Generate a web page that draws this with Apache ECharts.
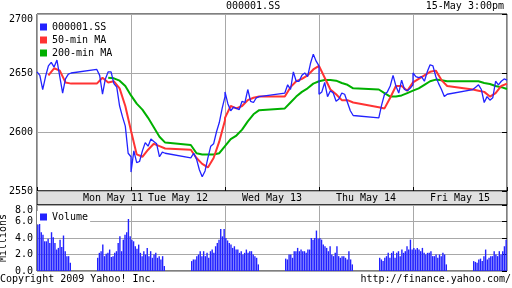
<!DOCTYPE html>
<html><head><meta charset="utf-8">
<script src="https://cdn.jsdelivr.net/npm/echarts@6/dist/echarts.min.js"></script>
<style>html,body{margin:0;padding:0;background:#fff}#c{width:512px;height:288px}</style>
</head><body><div id="c"></div>
<script>
// ---- data ----
const days = ['Mon May 11', 'Tue May 12', 'Wed May 13', 'Thu May 14', 'Fri May 15'];
// minutes after 9:30 (lunch 11:30-13:00 kept on the time axis, day = 9:30..15:00)
const priceTimes = [0,10,20,30,40,50,60,70,80,90,100,110,120, 210,220,230,240,250,260,270,280,290,300,310,320,330];
const maTimes = [0,20,40,60,80,100,120, 210,230,250,270,290,310,330];
const morningSlots = 20, lunchSlots = 15, afternoonSlots = 20;   // 6-minute volume slots
const price = [
  2651,2648,2636,2647,2656,2659,2655,2661,2647,2633,2645,2649,2650, 2653,2648,2632,2645,2651,2651,2641,2638,2622,2613,2605,2582,2579,
  2566,2584,2574,2575,2584,2591,2588,2594,2592,2590,2579,2583,2582, 2578,2582,2577,2568,2562,2567,2578,2588,2590,2600,2608,2620,2630,
  2634,2624,2618,2621,2620,2619,2626,2625,2636,2626,2625,2629,2630, 2633,2640,2636,2651,2643,2643,2648,2650,2647,2658,2666,2660,2656,
  2632,2634,2642,2630,2635,2633,2626,2628,2633,2632,2625,2618,2614, 2612,2623,2632,2634,2639,2648,2639,2633,2644,2636,2635,2637,2640,
  2650,2647,2646,2647,2643,2651,2657,2656,2647,2641,2636,2630,2632, 2636,2638,2640,2636,2625,2630,2627,2629,2643,2640,2643,2645,2644
];
const ma50 = [
  null,null,2648,2654,2652,2642,2641, 2641,2646,2642,2643,2637,2622,2601,
  2600,2581,2579,2585,2590,2588,2586, 2585,2578,2573,2570,2578,2592,2610,
  2612,2622,2620,2622,2627,2629,2630, 2630,2638,2643,2645,2648,2653,2656,
  2655,2646,2636,2632,2627,2627,2625, 2621,2620,2629,2639,2639,2635,2642,
  2643,2645,2648,2651,2652,2644,2639, 2636,2635,2634,2630,2633,2639,2641
];
const ma200 = [
  null,null,null,null,null,null,null, null,null,2646,2645.5,2643.5,2639,2631,
  2630,2624,2619,2612,2604,2596,2591, 2589,2582,2581,2581,2581,2582,2588,
  2588,2594,2597,2602,2609,2615,2618.5, 2620,2625,2630,2634,2637,2641,2643,
  2643,2644,2644,2643.5,2641.5,2640,2637, 2636,2633,2630,2630,2631,2633,2635,
  2635,2637,2640,2643,2644.4,2643.8,2643, 2643,2643,2641.5,2640.7,2639,2638,2636.4
];
const volume = [
  5.6,5.8,4.7,4.4,3.6,3.6,3.9,3.4,4.7,4.1,3.4,2.6,2.8,3.8,2.9,4.3,2.4,1.8,1.8,1.0,
  1.6,2.2,2.4,3.2,1.8,2.1,2.2,2.6,1.7,1.8,2.2,2.4,3.4,4.2,2.4,3.8,4.4,4.7,6.3,4.2,
  3.8,3.6,3.0,2.7,3.2,2.2,1.8,2.4,2.0,2.8,1.8,2.4,1.6,2.0,2.2,1.6,1.8,1.4,1.8,0.6,
  1.2,1.4,1.4,1.8,2.0,2.4,1.8,2.4,1.8,2.2,1.6,2.4,2.6,2.2,3.0,3.4,3.8,5.1,4.2,5.1,
  4.0,3.7,3.4,3.2,2.8,3.0,2.6,2.6,2.2,2.4,2.0,2.2,2.6,2.2,2.4,2.4,2.0,1.8,1.6,0.8,
  1.5,1.4,2.0,2.0,1.6,2.4,2.4,2.8,2.4,2.6,2.4,2.4,2.2,2.6,2.6,4.0,3.8,4.0,4.9,3.9,
  4.0,3.8,3.2,3.0,2.8,2.4,3.0,2.0,1.8,2.2,3.0,1.8,1.6,1.8,1.8,1.6,1.4,2.4,1.4,0.8,
  1.6,1.4,1.2,1.6,1.8,2.2,1.6,2.2,2.4,1.6,2.2,2.4,1.8,2.6,2.2,2.4,3.0,2.6,3.8,2.6,
  2.8,2.6,2.8,2.6,2.4,2.8,2.2,2.0,2.2,2.2,2.4,1.8,1.8,2.0,1.6,2.0,1.8,2.2,2.0,0.8,
  1.2,1.1,1.0,1.4,1.5,1.2,1.8,2.6,1.4,1.6,1.8,1.8,2.4,2.0,1.8,2.4,2.0,2.4,3.0,3.8
];
const priceTicks = {min: 2550, max: 2700, step: 50};
const volTicks = {min: 0, max: 8, step: 2};
const seriesNames = ['000001.SS', '50-min MA', '200-min MA', 'Volume'];
const titleText = '000001.SS';
const stampText = '15-May 3:00pm';
const copyText = 'Copyright 2009 Yahoo! Inc.';
const urlText = 'http://finance.yahoo.com/';

// ---- build ----
const DAY = 330;
function build(vals, times) {
  const out = [];
  vals.forEach((v, k) => {
    const d = Math.floor(k / times.length), i = k % times.length;
    if (v != null) out.push([d * DAY + times[i], v]);
  });
  return out;
}
const slotsPerDay = morningSlots + lunchSlots + afternoonSlots;
const volCats = [], volData = [];
let vi = 0;
days.forEach((d) => {
  for (let s = 0; s < slotsPerDay; s++) {
    volCats.push(d + ' ' + s);
    const inLunch = s >= morningSlots && s < morningSlots + lunchSlots;
    volData.push(inLunch ? '-' : volume[vi++]);
  }
});

const FONT = 'DejaVu Sans Mono';
const txt = {fontFamily: FONT, fontSize: 10, color: '#000', fontWeight: 'normal'};
const GRID = '#a8a8a8';
const BLUE = '#2222ff', RED = '#ff3333', GREEN = '#00b000';
const gridBase = {left: 37, width: 470, show: true, borderColor: '#000', borderWidth: 1,
                  containLabel: false, outerBoundsMode: 'none'};

const chart = echarts.init(document.getElementById('c'));
chart.setOption({
  animation: false,
  backgroundColor: '#fff',
  title: [
    {text: titleText, left: 226, top: 1, padding: 0, textStyle: txt},
    {text: stampText, right: 8, top: 1, padding: 0, textStyle: txt},
    {text: copyText, left: 0, top: 274, padding: 0, textStyle: txt},
    {text: urlText, right: 1, top: 274, padding: 0, textStyle: txt}
  ],
  legend: [
    {data: seriesNames.slice(0, 3), orient: 'vertical', left: 40, top: 21, padding: 0,
     itemWidth: 7, itemHeight: 7, itemGap: 1, icon: 'rect', selectedMode: false,
     textStyle: Object.assign({lineHeight: 12}, txt)},
    {data: [seriesNames[3]], orient: 'vertical', left: 37, top: 211, padding: [0, 2, 1, 3],
     backgroundColor: '#fff', itemWidth: 7, itemHeight: 7, icon: 'rect', selectedMode: false,
     textStyle: Object.assign({lineHeight: 12}, txt)}
  ],
  grid: [
    Object.assign({top: 14, height: 177, backgroundColor: '#fff'}, gridBase),
    Object.assign({top: 191, height: 14, backgroundColor: '#e0e0e0'}, gridBase),
    Object.assign({top: 205, height: 66, backgroundColor: '#fff'}, gridBase)
  ],
  xAxis: [
    {gridIndex: 0, type: 'value', min: 0, max: DAY * days.length, interval: DAY,
     axisLabel: {show: false}, axisLine: {show: false},
     axisTick: {show: true, inside: true, length: 4, lineStyle: {color: '#000'}},
     splitLine: {show: true, lineStyle: {color: GRID, width: 1}}},
    {gridIndex: 1, type: 'category', data: days, boundaryGap: true,
     axisLine: {show: false}, axisTick: {show: false}, splitLine: {show: false},
     axisLabel: Object.assign({inside: true, margin: 7, verticalAlign: 'middle', interval: 0,
       formatter: (v, i) => i === 0 ? '{a|' + v + '}' : v,
       rich: {a: Object.assign({padding: [0, 0, 0, 58]}, txt)}}, txt)},
    {gridIndex: 2, type: 'category', data: volCats, boundaryGap: true,
     axisLabel: {show: false}, axisLine: {show: false}, axisTick: {show: false},
     splitLine: {show: true, interval: (i) => i % slotsPerDay === 0, lineStyle: {color: GRID, width: 1}}}
  ],
  yAxis: [
    {gridIndex: 0, type: 'value', min: priceTicks.min, max: priceTicks.max, interval: priceTicks.step,
     axisLine: {show: false}, axisTick: {show: false},
     axisLabel: Object.assign({margin: 4, verticalAlignMaxLabel: 'top', formatter: v => String(v)}, txt),
     splitLine: {show: true, lineStyle: {color: GRID, width: 1}}},
    {gridIndex: 0, type: 'value', position: 'right', min: priceTicks.min, max: priceTicks.max, interval: priceTicks.step,
     axisLine: {show: false}, axisLabel: {show: false}, splitLine: {show: false},
     axisTick: {show: true, inside: true, length: 5, lineStyle: {color: '#000'}}},
    {gridIndex: 1, type: 'value', show: false},
    {gridIndex: 2, type: 'value', min: volTicks.min, max: volTicks.max, interval: volTicks.step,
     name: 'Millions', nameLocation: 'middle', nameGap: 29, nameRotate: 90, nameMoveOverlap: false,
     nameTextStyle: txt,
     axisLine: {show: false}, axisTick: {show: false},
     axisLabel: Object.assign({margin: 4, verticalAlignMaxLabel: 'top', formatter: v => v.toFixed(1)}, txt),
     splitLine: {show: true, lineStyle: {color: GRID, width: 1}}},
    {gridIndex: 2, type: 'value', position: 'right', min: volTicks.min, max: volTicks.max, interval: volTicks.step,
     axisLine: {show: false}, axisLabel: {show: false}, splitLine: {show: false},
     axisTick: {show: true, inside: true, length: 5, lineStyle: {color: '#000'}}}
  ],
  series: [
    {name: seriesNames[2], type: 'line', xAxisIndex: 0, yAxisIndex: 0, data: build(ma200, maTimes),
     symbol: 'none', color: GREEN, lineStyle: {width: 2, color: GREEN}},
    {name: seriesNames[1], type: 'line', xAxisIndex: 0, yAxisIndex: 0, data: build(ma50, maTimes),
     symbol: 'none', color: RED, lineStyle: {width: 2, color: RED}},
    {name: seriesNames[0], type: 'line', xAxisIndex: 0, yAxisIndex: 0, data: build(price, priceTimes),
     symbol: 'none', color: BLUE, lineStyle: {width: 1.3, color: BLUE}},
    {name: seriesNames[3], type: 'bar', xAxisIndex: 2, yAxisIndex: 3, data: volData,
     barWidth: 1.4, color: BLUE, itemStyle: {color: BLUE}}
  ]
});
</script></body></html>
